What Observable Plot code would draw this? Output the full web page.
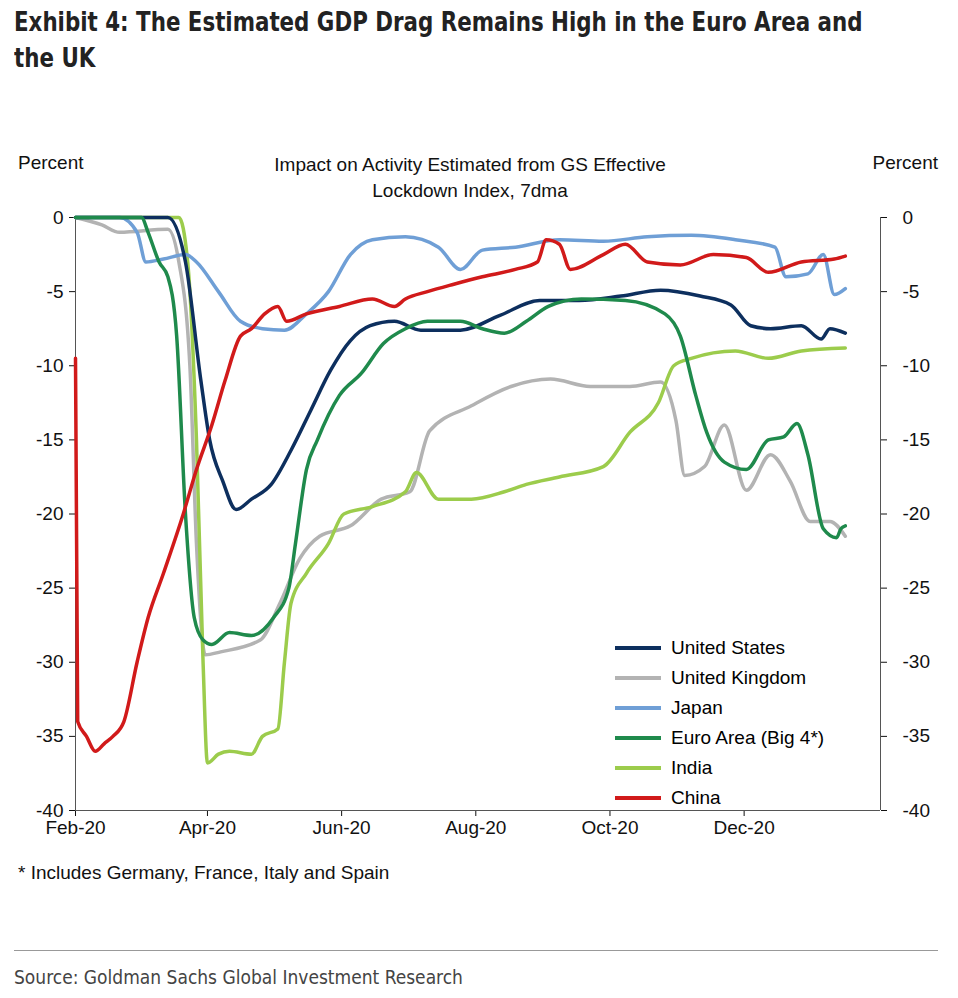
<!DOCTYPE html>
<html><head><meta charset="utf-8">
<script src="https://cdn.jsdelivr.net/npm/d3@7"></script>
<script src="https://cdn.jsdelivr.net/npm/@observablehq/plot@0.6"></script>
<style>
body{margin:0;background:#fff;font-family:"Liberation Sans",Arial,sans-serif;}
#wrap{position:relative;width:958px;height:998px;}
.title{position:absolute;left:14px;top:4px;font-family:"Liberation Sans Narrow","DejaVu Sans Condensed",sans-serif;font-weight:bold;font-size:27px;line-height:36px;color:#222;width:1040px;transform:scaleX(0.88);transform-origin:left top;}
.hdr{position:absolute;font-size:19px;color:#111;}
#legend{position:absolute;left:615px;top:633px;font-size:19px;}
#legend div{display:flex;align-items:center;height:30px;}
#legend span.sw{display:inline-block;width:46px;height:4px;margin-right:10px;}
</style></head><body><div id="wrap">
<div class="title">Exhibit 4: The Estimated GDP Drag Remains High in the Euro Area and<br>the UK</div>
<div class="hdr" style="left:18px;top:152px">Percent</div>
<div class="hdr" style="right:20px;top:152px">Percent</div>
<div class="hdr" style="left:200px;width:540px;text-align:center;top:152px;line-height:26px">Impact on Activity Estimated from GS Effective<br>Lockdown Index, 7dma</div>
<div id="chart" style="position:absolute;left:0;top:205px"></div>
<div id="legend"></div>
<div class="hdr" style="left:18px;top:862px">* Includes Germany, France, Italy and Spain</div>
<div style="position:absolute;left:14px;width:924px;top:950px;border-top:1px solid #999"></div>
<div class="hdr" style="left:14px;top:966px;font-family:'Liberation Sans Narrow','DejaVu Sans Condensed',sans-serif;color:#444">Source: Goldman Sachs Global Investment Research</div>
</div>
<script>
// days since 2020-02-01, value in percent
const us=[[0,0],[42,0],[50,-3],[57,-11],[61,-15],[67,-17.8],[73,-19.7],[80,-19],[89,-18],[98,-15.7],[107,-13],[116,-10.3],[125,-8.3],[134,-7.3],[145,-7],[157,-7.6],[175,-7.6],[193,-6.6],[211,-5.6],[229,-5.6],[248,-5.3],[266,-4.9],[284,-5.3],[298,-5.9],[307,-7.3],[316,-7.5],[330,-7.3],[339,-8.2],[343,-7.5],[350,-7.8]];
const uk=[[0,0],[12,-0.5],[20,-1],[42,-0.8],[47,-3],[52,-10],[55,-22],[59,-29.5],[66,-29.3],[84,-28.5],[93,-26],[102,-23],[111,-21.5],[125,-20.8],[139,-19],[152,-18.5],[161,-14.4],[180,-12.7],[198,-11.4],[216,-10.9],[234,-11.4],[252,-11.4],[266,-11.1],[273,-13.7],[277,-17.4],[286,-16.8],[295,-14],[305,-18.4],[316,-16],[325,-17.8],[334,-20.5],[343,-20.5],[350,-21.5]];
const japan=[[0,0],[20,0],[28,-1],[32,-3],[40,-2.8],[50,-2.5],[55,-3],[65,-5],[75,-7],[85,-7.5],[95,-7.6],[105,-6.5],[115,-5],[125,-2.5],[135,-1.5],[150,-1.3],[165,-2],[175,-3.5],[185,-2.2],[200,-2],[220,-1.5],[240,-1.6],[260,-1.3],[280,-1.2],[300,-1.5],[318,-2],[323,-4],[333,-3.8],[340,-2.5],[345,-5.2],[350,-4.8]];
const euro=[[0,0],[30,0],[33,-1],[38,-3],[42,-4],[46,-8],[50,-20],[54,-27],[58,-28.5],[62,-28.8],[70,-28],[80,-28.2],[90,-27],[97,-25],[100,-22],[105,-17],[110,-15],[120,-12],[130,-10.5],[140,-8.5],[150,-7.5],[160,-7],[175,-7],[185,-7.5],[195,-7.8],[205,-7],[215,-6],[230,-5.5],[250,-5.6],[268,-6.5],[275,-8],[282,-12],[287,-14.5],[295,-16.5],[305,-17],[315,-15],[322,-14.8],[328,-13.9],[333,-16],[340,-21],[346,-21.6],[348,-21],[350,-20.8]];
const india=[[0,0],[47,0],[51,-3],[55,-15],[58,-30],[60,-36.8],[65,-36.2],[70,-36],[80,-36.2],[85,-35],[92,-34.5],[95,-30],[98,-26],[105,-24],[115,-22],[122,-20],[135,-19.5],[150,-18.5],[155,-17.2],[165,-19],[180,-19],[195,-18.5],[205,-18],[220,-17.5],[240,-16.8],[252,-14.5],[265,-12.5],[272,-10],[280,-9.5],[300,-9],[315,-9.5],[330,-9],[350,-8.8]];
const china=[[0,-9.5],[1,-34],[5,-35],[9,-36],[13,-35.5],[17,-35],[22,-34],[28,-30],[33,-27],[40,-24],[49,-20],[55,-17],[62,-14],[68,-11],[75,-8],[80,-7.5],[86,-6.5],[92,-6],[96,-7],[105,-6.5],[120,-6],[135,-5.5],[145,-6],[150,-5.5],[160,-5],[172,-4.5],[185,-4],[200,-3.5],[210,-3],[214,-1.5],[220,-1.8],[225,-3.5],[240,-2.5],[250,-1.8],[260,-3],[275,-3.2],[290,-2.5],[305,-2.7],[315,-3.7],[330,-3],[345,-2.8],[350,-2.6]];
const seriesNames=["United States","United Kingdom","Japan","Euro Area (Big 4*)","India","China"];
const seriesColors=["#0d2f5e","#b3b3b3","#6f9fd6","#1f8a4c","#9ccc4c","#d11a1a"];
const seriesData=[us,uk,japan,euro,india,china];
const yTicks=[0,-5,-10,-15,-20,-25,-30,-35,-40];
const xTickLabels=["Feb-20","Apr-20","Jun-20","Aug-20","Oct-20","Dec-20"];

const base=new Date(2020,1,1);
const rows=[];
seriesData.forEach((s,i)=>s.forEach(([d,v])=>rows.push({s:seriesNames[i],date:d3.timeDay.offset(base,d),v})));
const drawOrder=["United Kingdom","India","Japan","United States","Euro Area (Big 4*)","China"];
const xTicks=xTickLabels.map((_,i)=>new Date(2020,1+2*i,1));
const chart=Plot.plot({
  width:958,height:640,marginLeft:75,marginRight:78,marginTop:12,marginBottom:35,
  style:{fontSize:"19px",fontFamily:"Liberation Sans, Arial, sans-serif",color:"#111"},
  x:{type:"time",domain:[base,new Date(2021,1,1)]},
  y:{domain:[-40,0]},
  color:{domain:seriesNames,range:seriesColors},
  marks:[
    Plot.axisX({ticks:xTicks,tickFormat:(d,i)=>xTickLabels[i],tickSize:6,tickPadding:4,label:null}),
    Plot.axisY({ticks:yTicks,tickFormat:d=>String(d),anchor:"left",tickSize:6,tickPadding:6,label:null}),
    Plot.axisY({ticks:yTicks,tickFormat:d=>String(d),anchor:"right",tickSize:6,tickPadding:16,label:null}),
    Plot.ruleX([base],{stroke:"#555"}),
    Plot.ruleX([new Date(2021,1,1)],{stroke:"#555"}),
    Plot.ruleY([-40],{stroke:"#555"}),
    ...drawOrder.map(n=>Plot.line(rows.filter(r=>r.s===n),{x:"date",y:"v",stroke:"s",strokeWidth:3.5,curve:"monotone-x"}))
  ]
});
document.getElementById("chart").append(chart);
const lg=document.getElementById("legend");
seriesNames.forEach((n,i)=>{const d=document.createElement("div");d.innerHTML=`<span class="sw" style="background:${seriesColors[i]}"></span>${n}`;lg.append(d);});
</script></body></html>
